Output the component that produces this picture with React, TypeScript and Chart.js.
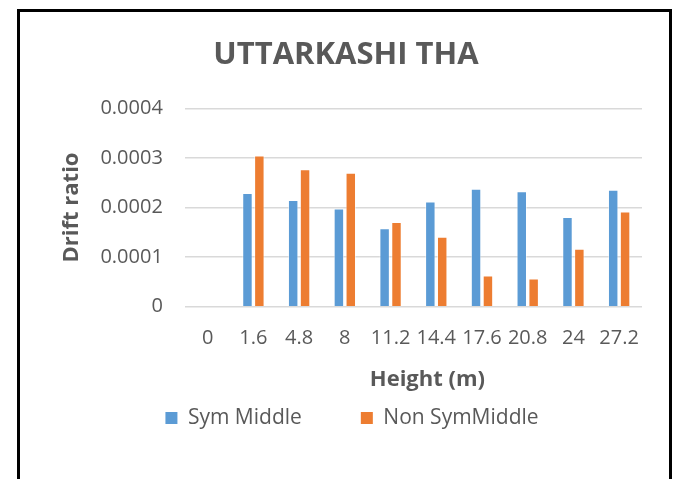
import React, { useEffect, useRef } from "react";
import { Chart, registerables } from "chart.js";

Chart.register(...registerables);

const chartTitle = "UTTARKASHI THA";
const xAxisTitle = "Height (m)";
const yAxisTitle = "Drift ratio";
const categories = ["0", "1.6", "4.8", "8", "11.2", "14.4", "17.6", "20.8", "24", "27.2"];
const seriesNames = ["Sym Middle", "Non SymMiddle"];
const seriesColors = ["#5B9BD5", "#ED7D31"];
const symMiddle = [null, 0.000229, 0.000215, 0.000198, 0.000158, 0.000212, 0.000238, 0.000233, 0.000181, 0.000236];
const nonSymMiddle = [null, 0.000305, 0.000277, 0.00027, 0.000171, 0.000141, 0.000063, 0.000057, 0.000117, 0.000192];
const yTickLabels = ["0", "0.0001", "0.0002", "0.0003", "0.0004"];
const yMin = 0;
const yMax = 0.0004;
const yStep = 0.0001;

const TEXT = "#595959";
const FONT = "'Open Sans', 'Liberation Sans', sans-serif";

// nudges the centred title / legend / x-axis title sideways after layout
const nudgeBoxes = {
  id: "nudgeBoxes",
  afterLayout(chart: any) {
    if (chart.titleBlock) chart.titleBlock.left += 10;
    if (chart.legend) chart.legend.left += 22;
  },
  beforeDraw(chart: any) {
    const x = chart.scales.x;
    if (x && !x._nudged) {
      x._nudged = true;
      x.left += 28;
    }
  },
};

export default function App() {
  const canvasRef = useRef<HTMLCanvasElement | null>(null);

  useEffect(() => {
    if (!canvasRef.current) return;
    const chart = new Chart(canvasRef.current, {
      type: "bar",
      plugins: [nudgeBoxes],
      data: {
        labels: categories,
        datasets: [
          {
            label: seriesNames[0],
            data: symMiddle,
            backgroundColor: seriesColors[0],
            borderColor: "rgba(255,255,255,0.5)",
            borderWidth: 1,
            categoryPercentage: 0.52,
            barPercentage: 0.88,
          },
          {
            label: seriesNames[1],
            data: nonSymMiddle,
            backgroundColor: seriesColors[1],
            borderColor: "rgba(255,255,255,0.5)",
            borderWidth: 1,
            categoryPercentage: 0.52,
            barPercentage: 0.88,
          },
        ],
      },
      options: {
        responsive: true,
        maintainAspectRatio: false,
        animation: false,
        color: TEXT,
        font: { family: FONT },
        layout: { padding: { left: 20, right: 27, top: 0, bottom: 40.5 } },
        plugins: {
          tooltip: { enabled: false },
          title: {
            display: true,
            text: chartTitle,
            color: TEXT,
            font: { family: FONT, size: 31, weight: "bold" },
            padding: { top: 24.7, bottom: 34.4 },
          },
          legend: {
            position: "bottom",
            labels: {
              color: TEXT,
              boxWidth: 12,
              boxHeight: 12,
              padding: 59,
              font: { family: FONT, size: 21 },
              generateLabels: (c: any) =>
                c.data.datasets.map((ds: any, i: number) => ({
                  text: ds.label,
                  fillStyle: seriesColors[i],
                  strokeStyle: seriesColors[i],
                  lineWidth: 0,
                  fontColor: TEXT,
                  hidden: false,
                  datasetIndex: i,
                })),
            },
          },
        },
        scales: {
          x: {
            grid: { display: false, drawTicks: false },
            border: { display: false },
            ticks: {
              color: TEXT,
              autoSkip: false,
              maxRotation: 0,
              minRotation: 0,
              padding: 19.5,
              font: { family: FONT, size: 20 },
            },
            title: {
              display: true,
              text: xAxisTitle,
              color: TEXT,
              font: { family: FONT, size: 22, weight: "bold" },
              padding: { top: -3.4, bottom: -44.2 },
            },
          },
          y: {
            min: yMin,
            max: yMax,
            grid: { color: "#d9d9d9", lineWidth: 1.5, drawTicks: false },
            border: { display: false },
            ticks: {
              stepSize: yStep,
              color: TEXT,
              padding: 22,
              font: { family: FONT, size: 20 },
              callback: (_v: any, i: number) => yTickLabels[i] ?? "",
            },
            title: {
              display: true,
              text: yAxisTitle,
              color: TEXT,
              font: { family: FONT, size: 22, weight: "bold" },
              padding: { top: 18.8, bottom: -6.8 },
            },
          },
        },
      },
    });
    return () => chart.destroy();
  }, []);

  return (
    <div
      style={{
        position: "absolute",
        left: 17,
        top: 9,
        width: 649,
        height: 500,
        border: "3px solid #000",
        background: "#fff",
      }}
    >
      <div style={{ position: "relative", width: 649, height: 467 }}>
        <canvas ref={canvasRef} />
      </div>
    </div>
  );
}
